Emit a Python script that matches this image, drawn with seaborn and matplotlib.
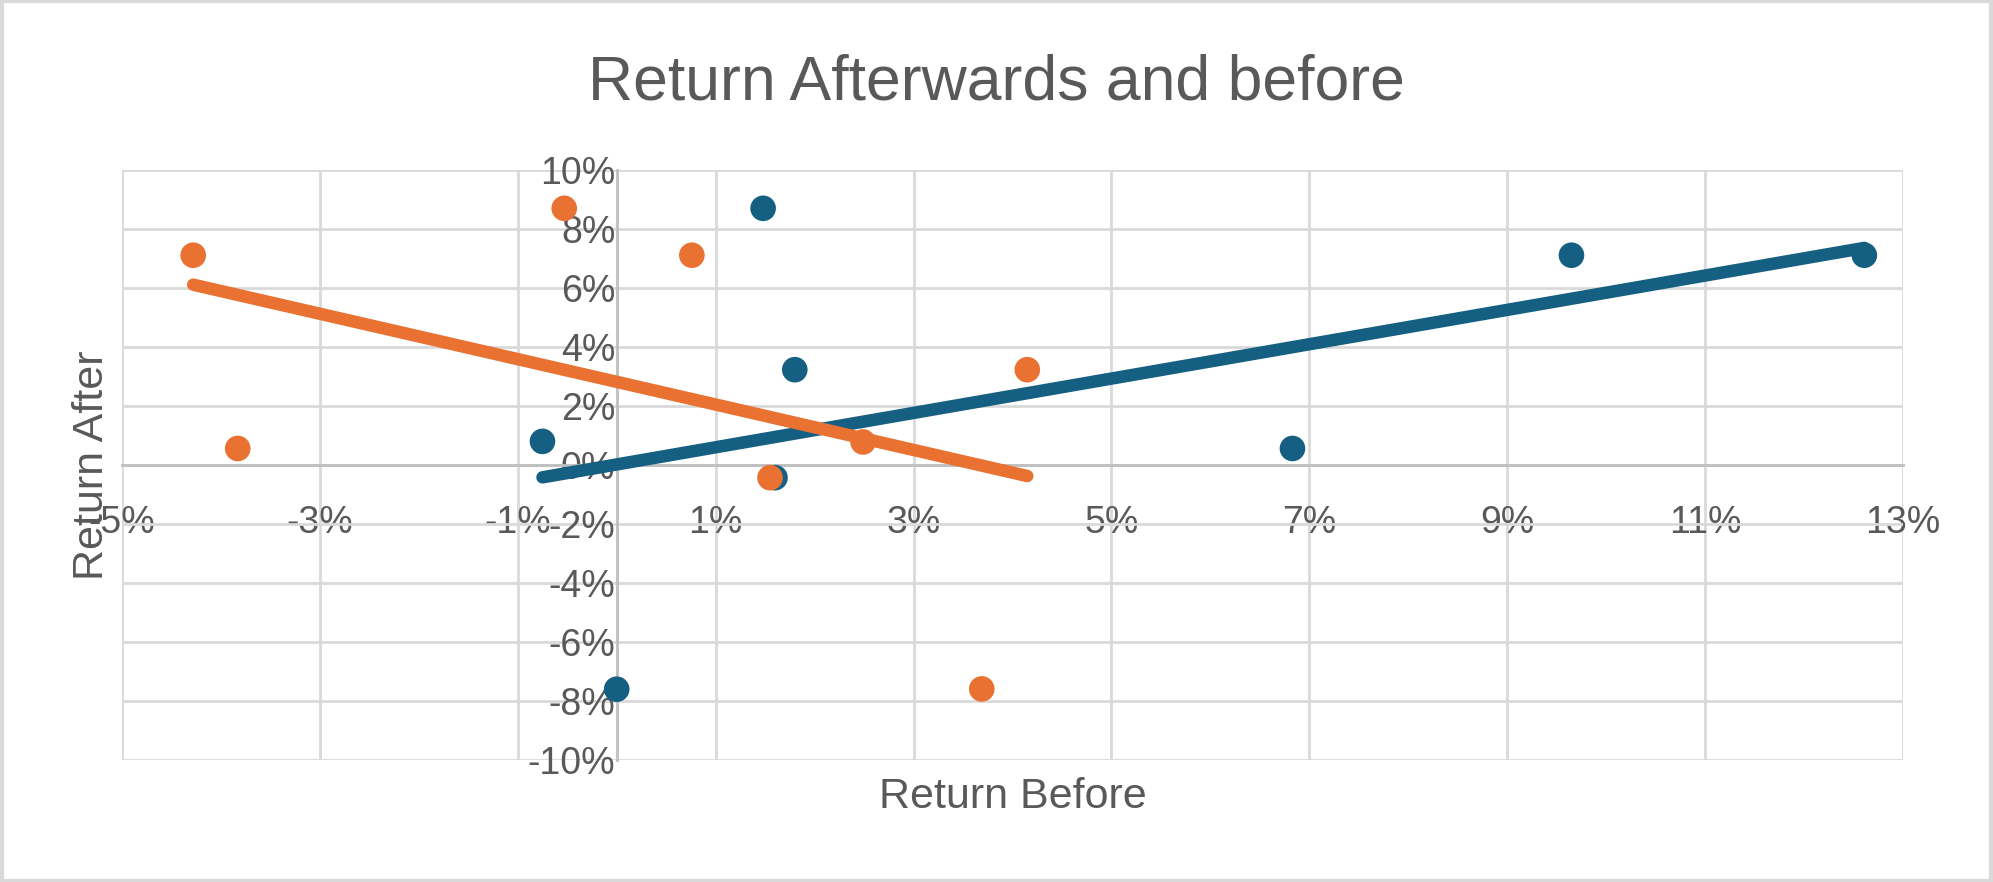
import numpy as np
import pandas as pd
import matplotlib
matplotlib.use('Agg')
import matplotlib.pyplot as plt
import seaborn as sns
from matplotlib.ticker import FuncFormatter, FixedLocator
from matplotlib.patches import Rectangle

sns.set_theme(style='white')
plt.rcParams['font.family'] = ['Liberation Sans', 'DejaVu Sans']

# values, in percent
return_after = [0.80, -7.60, 8.70, -0.43, 3.23, 0.56, 7.11, 7.11]
before_blue = [-0.75, 0.00, 1.48, 1.60, 1.80, 6.83, 9.65, 12.61]

after_orange = [7.11, 0.56, 8.70, 7.11, -0.43, 0.78, 3.23, -7.59]
before_orange = [-4.28, -3.83, -0.53, 0.76, 1.55, 2.49, 4.15, 3.69]

x_ticks = [-5, -3, -1, 1, 3, 5, 7, 9, 11, 13]
y_ticks = [-10, -8, -6, -4, -2, 0, 2, 4, 6, 8, 10]

BLUE = '#156082'
ORANGE = '#E97132'
TEXT = '#595959'
GRID = '#d9d9d9'

df_blue = pd.DataFrame({'before': before_blue, 'after': return_after})
df_orange = pd.DataFrame({'before': before_orange, 'after': after_orange})

fig = plt.figure(figsize=(19.93, 8.82), dpi=100)
ax = fig.add_axes([0.0612, 0.1383, 0.8936, 0.669])

# markers first, trend lines on top
sns.scatterplot(data=df_blue, x='before', y='after', color=BLUE, s=340,
                edgecolor='none', ax=ax, zorder=3)
sns.scatterplot(data=df_orange, x='before', y='after', color=ORANGE, s=340,
                edgecolor='none', ax=ax, zorder=3)
sns.regplot(data=df_blue, x='before', y='after', ci=None, scatter=False,
            color=BLUE, line_kws={'lw': 9, 'solid_capstyle': 'round', 'zorder': 4}, ax=ax)
sns.regplot(data=df_orange, x='before', y='after', ci=None, scatter=False,
            color=ORANGE, line_kws={'lw': 9, 'solid_capstyle': 'round', 'zorder': 5}, ax=ax)

ax.set_xlim(x_ticks[0], x_ticks[-1])
ax.set_ylim(y_ticks[0], y_ticks[-1])
ax.xaxis.set_major_locator(FixedLocator(x_ticks))
ax.yaxis.set_major_locator(FixedLocator(y_ticks))
pct = FuncFormatter(lambda v, _: f'{v:.0f}%')
ax.xaxis.set_major_formatter(pct)
ax.yaxis.set_major_formatter(pct)

ax.grid(True, color=GRID, lw=2)
ax.set_axisbelow(True)
for side in ['top', 'right']:
    ax.spines[side].set_visible(False)
for side in ['left', 'bottom']:
    ax.spines[side].set_position(('data', 0))
    ax.spines[side].set_color('#bfbfbf')
    ax.spines[side].set_linewidth(2)
    ax.spines[side].set_zorder(1)

ax.tick_params(axis='both', length=0, labelsize=27, labelcolor=TEXT)
ax.tick_params(axis='x', pad=29)
ax.tick_params(axis='y', pad=1)

ax.set_xlabel('Return Before', fontsize=31, color=TEXT, va='center')
ax.set_ylabel('Return After', fontsize=31, color=TEXT, va='center')
ax.xaxis.set_label_coords(0.5, -0.063)
ax.yaxis.set_label_coords(-0.017, 0.5)

fig.text(0.5, 0.906, 'Return Afterwards and before', ha='center', va='center',
         fontsize=45, color=TEXT)

# chart area border
fig.patches.append(Rectangle((0.0008, 0.0017), 0.9984, 0.9966, transform=fig.transFigure,
                             fill=False, edgecolor=GRID, lw=3))

fig.savefig('out.png', dpi=100)
